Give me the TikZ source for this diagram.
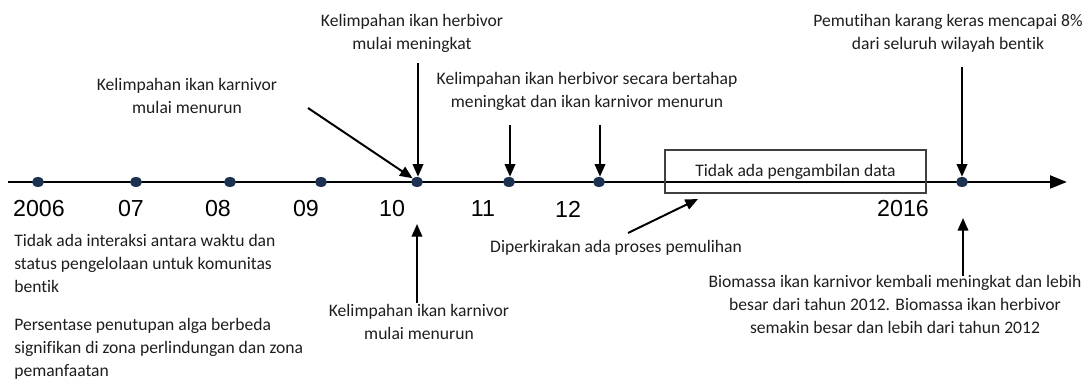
\documentclass[tikz,border=0pt]{standalone}
\usepackage{fontspec}
\setmainfont{Carlito}[Ligatures=NoCommon]
\newfontfamily\yearfont{Liberation Sans}
\usetikzlibrary{arrows.meta,shapes.geometric}
\definecolor{dotblue}{RGB}{28,50,80}
\definecolor{txtgray}{RGB}{30,30,30}
\tikzset{
  note/.style={font=\fontsize{12.5}{16.4}\selectfont, text=txtgray, align=center, inner sep=0pt},
  year/.style={font=\yearfont\fontsize{16.5}{18}\selectfont, inner sep=0pt},
  event/.style={ellipse, fill=dotblue, inner sep=0pt, minimum width=12\pxu, minimum height=10\pxu},
  pointer/.style={-{Triangle[length=9pt,width=7.5pt]}, line width=1.4pt},
}
\newcommand{\pxu}{*0.025cm}
\begin{document}
\begin{tikzpicture}[x=0.025cm,y=-0.025cm]
        \useasboundingbox (0,0) rectangle (1086,380);
        %timeline
        \coordinate (tstart) at (8,182);
        \coordinate (tend) at (1067,182);
        \draw [line width=2pt,-{Triangle[length=12pt,width=9pt]}] (tstart) -- (tend);
        %no data box
        \node [draw=black!75, line width=0.8pt, minimum width=261\pxu, minimum height=43\pxu,
               font=\fontsize{12.5}{14}\selectfont, text=txtgray] (nodata) at (795.5,171.5) {Tidak ada pengambilan data};
        %years
        \foreach \x/\t/\n in {39/2006/y06,131/07/y07,218/08/y08,306/09/y09,392/10/y10,483/11/y11,568/12/y12,903/2016/y16}
            \node [year] (\n) at (\x,209) {\t};
        %events
        \foreach \x/\n in {38/d06,136/d07,230/d08,321/d09,417/d10,509/d11,599/d12,962/d16}
            \node [event] (\n) at (\x,182) {};
        %top notes
        \node [note] (karnA) at (187,96) {Kelimpahan ikan karnivor\\mulai menurun};
        \node [note] (herbA) at (412,33) {Kelimpahan ikan herbivor\\mulai meningkat};
        \node [note] (herbB) at (587,91) {Kelimpahan ikan herbivor secara bertahap\\meningkat dan ikan karnivor menurun};
        \node [note] (bleach) at (948,33) {Pemutihan karang keras mencapai 8\%\\dari seluruh wilayah bentik};
        %bottom notes
        \node [note, align=left, anchor=west] (nointer) at (14,263.5) {Tidak ada interaksi antara waktu dan\\status pengelolaan untuk komunitas\\bentik};
        \node [note, align=left, anchor=west] (alga) at (14,348.5) {Persentase penutupan alga berbeda\\signifikan di zona perlindungan dan zona\\pemanfaatan};
        \node [note] (karnB) at (419,321.5) {Kelimpahan ikan karnivor\\mulai menurun};
        \node [note] (recov) at (616,248) {Diperkirakan ada proses pemulihan};
        \node [note] (biomass) at (895,304.5) {Biomassa ikan karnivor kembali meningkat dan lebih\\besar dari tahun 2012. Biomassa ikan herbivor\\semakin besar dan lebih dari tahun 2012};
        %arrow ends
        \coordinate (karnAtail) at (308,108);
        \coordinate (herbAtail) at (418,63);
        \coordinate (herbBtailA) at (510,125);
        \coordinate (herbBtailB) at (600,125);
        \coordinate (bleachtail) at (962,67);
        \coordinate (karnBtail) at (417,303);
        \coordinate (karnBtip) at (417,224);
        \coordinate (recovtail) at (628,233);
        \coordinate (recovtip) at (698,199);
        \coordinate (biotail) at (963,276);
        \coordinate (biotip) at (963,218);
        %edges
        \draw [pointer] (karnAtail) -- (d10.north west);
        \draw [pointer] (herbAtail) -- (herbAtail |- d10.north);
        \draw [pointer] (herbBtailA) -- (herbBtailA |- d11.north);
        \draw [pointer] (herbBtailB) -- (herbBtailB |- d12.north);
        \draw [pointer] (bleachtail) -- (d16.north);
        \draw [pointer] (karnBtail) -- (karnBtip);
        \draw [pointer] (recovtail) -- (recovtip);
        \draw [pointer] (biotail) -- (biotip);
    \end{tikzpicture}
\end{document}
